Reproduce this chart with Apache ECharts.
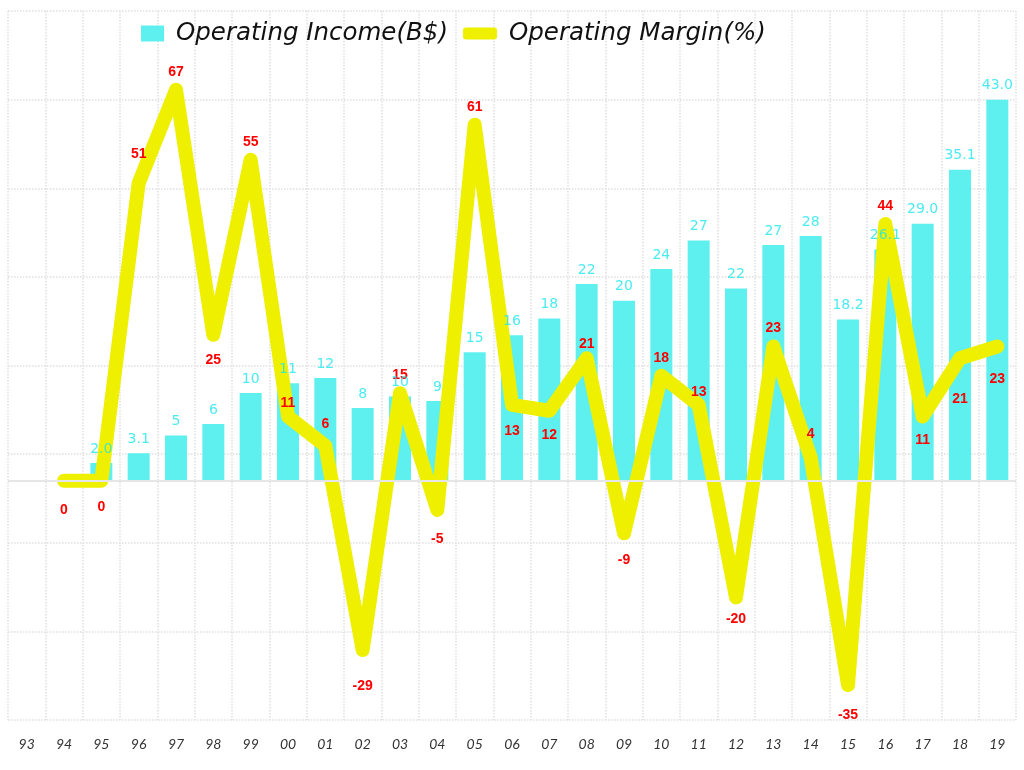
<!DOCTYPE html>
<html>
<head>
<meta charset="utf-8">
<script src="https://cdn.jsdelivr.net/npm/echarts@6/dist/echarts.min.js"></script>
<style>
html,body{margin:0;padding:0;background:#fff;}
#chart{width:1024px;height:770px;}
</style>
</head>
<body>
<div id="chart"></div>
<script>
const years = ['93','94','95','96','97','98','99','00','01','02','03','04','05','06','07','08','09','10','11','12','13','14','15','16','17','18','19'];
const operatingIncome = [null,null,2.0,3.1,5.1,6.4,9.9,11.0,11.6,8.2,9.5,9.0,14.5,16.4,18.3,22.2,20.3,23.9,27.1,21.7,26.6,27.6,18.2,26.1,29.0,35.1,43.0];
const incomeLabels = ['','','2.0','3.1','5','6','10','11','12','8','10','9','15','16','18','22','20','24','27','22','27','28','18.2','26.1','29.0','35.1','43.0'];
const operatingMargin = [null,0,0,51,67,25,55,11,6,-29,15,-5,61,13,12,21,-9,18,13,-20,23,4,-35,44,11,21,23];

// label placement (style only): which margin labels sit below the line, and small extra gaps (px)
const marginLabelBelow = ['94','95','98','02','04','06','07','09','12','15','17','18','19'];
const marginLabelExtraGap = {
  '94': 3, '96': 11, '98': -1, '00': -5, '01': 4, '02': 10, '04': 3, '07': -2,
  '08': -4, '09': 1, '11': -5, '12': -4, '14': 5, '15': 4, '17': -2, '18': 15, '19': 7
};

const incomeName = 'Operating Income(B$)';
const marginName = 'Operating Margin(%)';

const chart = echarts.init(document.getElementById('chart'));

const marginData = operatingMargin.map((v, i) => {
  if (v === null) return null;
  const below = marginLabelBelow.includes(years[i]);
  const extra = marginLabelExtraGap[years[i]] || 0;
  return {
    value: v,
    label: {
      position: below ? 'bottom' : 'top',
      distance: (below ? 18 : 10) + extra
    }
  };
});

const legendText = { fontFamily: 'DejaVu Sans', fontStyle: 'italic', fontSize: 24.5, color: '#111', padding: [0, 0, 0, 7] };

const option = {
  backgroundColor: '#ffffff',
  animation: false,
  legend: [
    {
      data: [{ name: incomeName, icon: 'rect' }],
      left: 141, top: 21, padding: 0,
      itemWidth: 23, itemHeight: 16,
      textStyle: legendText
    },
    {
      data: [{ name: marginName, icon: 'roundRect' }],
      left: 463, top: 21, padding: 0,
      itemWidth: 34, itemHeight: 12,
      textStyle: legendText
    }
  ],
  grid: { left: 8, right: 8, top: 11, bottom: 50, containLabel: false },
  xAxis: {
    type: 'category',
    data: years,
    boundaryGap: true,
    axisLine: { show: false },
    axisTick: { show: false },
    axisLabel: { fontFamily: 'Lato', fontStyle: 'italic', fontSize: 14, color: '#333', margin: 17 },
    splitLine: { show: true, lineStyle: { color: '#e0e0e0', type: 'dotted', width: 1.5 } }
  },
  yAxis: [
    {
      type: 'value', min: -27, max: 53, interval: 10,
      axisLabel: { show: false }, axisLine: { show: false }, axisTick: { show: false },
      splitLine: { show: true, lineStyle: { color: '#e0e0e0', type: 'dotted', width: 1.5 } }
    },
    {
      type: 'value', min: -41, max: 80.5,
      axisLabel: { show: false }, axisLine: { show: false }, axisTick: { show: false },
      splitLine: { show: false }
    }
  ],
  series: [
    {
      name: incomeName,
      type: 'bar',
      yAxisIndex: 0,
      data: operatingIncome,
      barWidth: 22,
      itemStyle: { color: '#5ef0ee' },
      markLine: {
        silent: true, symbol: 'none',
        label: { show: false },
        lineStyle: { color: '#e6e6e6', type: 'solid', width: 2 },
        data: [{ yAxis: 0 }]
      },
      z: 2
    },
    {
      name: marginName,
      type: 'line',
      yAxisIndex: 1,
      data: marginData,
      showSymbol: true,
      showAllSymbol: true,
      symbol: 'circle',
      symbolSize: 2,
      connectNulls: false,
      lineStyle: { color: '#eef000', width: 14, cap: 'round', join: 'round' },
      itemStyle: { color: '#eef000' },
      label: {
        show: true,
        fontFamily: 'Liberation Sans', fontWeight: 'bold', fontSize: 14, color: '#ff0000'
      },
      labelLayout: { hideOverlap: false },
      z: 3
    },
    {
      name: 'incomeLabels',
      type: 'scatter',
      yAxisIndex: 0,
      data: operatingIncome,
      symbolSize: 0,
      silent: true,
      itemStyle: { color: 'transparent' },
      label: {
        show: true, position: 'top', distance: 7,
        fontFamily: 'DejaVu Sans', fontSize: 14, color: '#1ee6ee',
        formatter: p => incomeLabels[p.dataIndex]
      },
      labelLayout: { hideOverlap: false },
      z: 4
    }
  ]
};

chart.setOption(option);
</script>
</body>
</html>
